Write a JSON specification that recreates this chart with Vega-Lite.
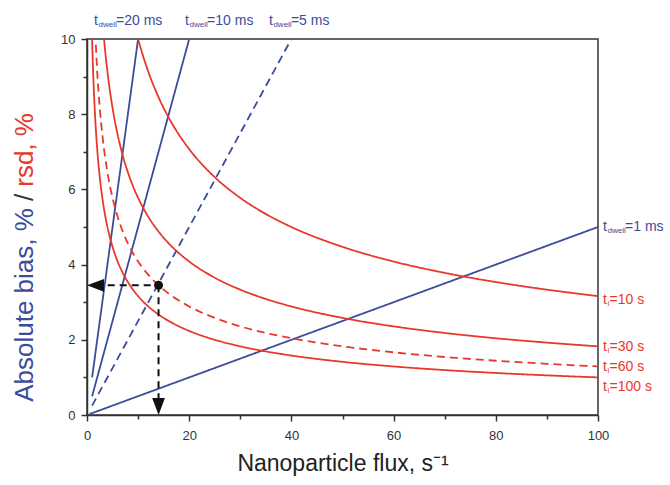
{
  "$schema": "https://vega.github.io/schema/vega-lite/v6.json",
  "width": 511,
  "height": 376,
  "autosize": {"type": "none"},
  "padding": {"left": 87, "top": 39, "right": 72, "bottom": 70},
  "background": "white",
  "config": {
    "font": "Liberation Sans",
    "view": {"stroke": "#333333", "strokeWidth": 1.5}
  },
  "datasets": {
    "curves": [
      {"s": "dwell20", "g": "bias", "d": "solid", "x": 1, "y": 1},
      {"s": "dwell20", "g": "bias", "d": "solid", "x": 10, "y": 10},
      {"s": "dwell10", "g": "bias", "d": "solid", "x": 1, "y": 0.5},
      {"s": "dwell10", "g": "bias", "d": "solid", "x": 20, "y": 10},
      {"s": "dwell5", "g": "bias", "d": "dashed", "x": 1, "y": 0.25},
      {"s": "dwell5", "g": "bias", "d": "dashed", "x": 40, "y": 10},
      {"s": "dwell1", "g": "bias", "d": "solid", "x": 0.5, "y": 0.025},
      {"s": "dwell1", "g": "bias", "d": "solid", "x": 100, "y": 5},

      {"s": "ti10", "g": "rsd", "d": "solid", "x": 8, "y": 11.18},
      {"s": "ti10", "g": "rsd", "d": "solid", "x": 9, "y": 10.54},
      {"s": "ti10", "g": "rsd", "d": "solid", "x": 10, "y": 10},
      {"s": "ti10", "g": "rsd", "d": "solid", "x": 12, "y": 9.129},
      {"s": "ti10", "g": "rsd", "d": "solid", "x": 14, "y": 8.452},
      {"s": "ti10", "g": "rsd", "d": "solid", "x": 16, "y": 7.906},
      {"s": "ti10", "g": "rsd", "d": "solid", "x": 18, "y": 7.454},
      {"s": "ti10", "g": "rsd", "d": "solid", "x": 20, "y": 7.071},
      {"s": "ti10", "g": "rsd", "d": "solid", "x": 25, "y": 6.325},
      {"s": "ti10", "g": "rsd", "d": "solid", "x": 30, "y": 5.774},
      {"s": "ti10", "g": "rsd", "d": "solid", "x": 35, "y": 5.345},
      {"s": "ti10", "g": "rsd", "d": "solid", "x": 40, "y": 5},
      {"s": "ti10", "g": "rsd", "d": "solid", "x": 50, "y": 4.472},
      {"s": "ti10", "g": "rsd", "d": "solid", "x": 60, "y": 4.082},
      {"s": "ti10", "g": "rsd", "d": "solid", "x": 70, "y": 3.78},
      {"s": "ti10", "g": "rsd", "d": "solid", "x": 80, "y": 3.536},
      {"s": "ti10", "g": "rsd", "d": "solid", "x": 90, "y": 3.333},
      {"s": "ti10", "g": "rsd", "d": "solid", "x": 100, "y": 3.162},

      {"s": "ti30", "g": "rsd", "d": "solid", "x": 3, "y": 10.54},
      {"s": "ti30", "g": "rsd", "d": "solid", "x": 3.5, "y": 9.759},
      {"s": "ti30", "g": "rsd", "d": "solid", "x": 4, "y": 9.129},
      {"s": "ti30", "g": "rsd", "d": "solid", "x": 5, "y": 8.165},
      {"s": "ti30", "g": "rsd", "d": "solid", "x": 6, "y": 7.454},
      {"s": "ti30", "g": "rsd", "d": "solid", "x": 7, "y": 6.901},
      {"s": "ti30", "g": "rsd", "d": "solid", "x": 8, "y": 6.455},
      {"s": "ti30", "g": "rsd", "d": "solid", "x": 9, "y": 6.086},
      {"s": "ti30", "g": "rsd", "d": "solid", "x": 10, "y": 5.774},
      {"s": "ti30", "g": "rsd", "d": "solid", "x": 12, "y": 5.27},
      {"s": "ti30", "g": "rsd", "d": "solid", "x": 14, "y": 4.88},
      {"s": "ti30", "g": "rsd", "d": "solid", "x": 16, "y": 4.564},
      {"s": "ti30", "g": "rsd", "d": "solid", "x": 18, "y": 4.303},
      {"s": "ti30", "g": "rsd", "d": "solid", "x": 20, "y": 4.082},
      {"s": "ti30", "g": "rsd", "d": "solid", "x": 25, "y": 3.651},
      {"s": "ti30", "g": "rsd", "d": "solid", "x": 30, "y": 3.333},
      {"s": "ti30", "g": "rsd", "d": "solid", "x": 35, "y": 3.086},
      {"s": "ti30", "g": "rsd", "d": "solid", "x": 40, "y": 2.887},
      {"s": "ti30", "g": "rsd", "d": "solid", "x": 50, "y": 2.582},
      {"s": "ti30", "g": "rsd", "d": "solid", "x": 60, "y": 2.357},
      {"s": "ti30", "g": "rsd", "d": "solid", "x": 70, "y": 2.182},
      {"s": "ti30", "g": "rsd", "d": "solid", "x": 80, "y": 2.041},
      {"s": "ti30", "g": "rsd", "d": "solid", "x": 90, "y": 1.925},
      {"s": "ti30", "g": "rsd", "d": "solid", "x": 100, "y": 1.826},

      {"s": "ti60", "g": "rsd", "d": "dashed", "x": 1.5, "y": 10.54},
      {"s": "ti60", "g": "rsd", "d": "dashed", "x": 2, "y": 9.129},
      {"s": "ti60", "g": "rsd", "d": "dashed", "x": 2.5, "y": 8.165},
      {"s": "ti60", "g": "rsd", "d": "dashed", "x": 3, "y": 7.454},
      {"s": "ti60", "g": "rsd", "d": "dashed", "x": 3.5, "y": 6.901},
      {"s": "ti60", "g": "rsd", "d": "dashed", "x": 4, "y": 6.455},
      {"s": "ti60", "g": "rsd", "d": "dashed", "x": 5, "y": 5.774},
      {"s": "ti60", "g": "rsd", "d": "dashed", "x": 6, "y": 5.27},
      {"s": "ti60", "g": "rsd", "d": "dashed", "x": 7, "y": 4.88},
      {"s": "ti60", "g": "rsd", "d": "dashed", "x": 8, "y": 4.564},
      {"s": "ti60", "g": "rsd", "d": "dashed", "x": 9, "y": 4.303},
      {"s": "ti60", "g": "rsd", "d": "dashed", "x": 10, "y": 4.082},
      {"s": "ti60", "g": "rsd", "d": "dashed", "x": 12, "y": 3.727},
      {"s": "ti60", "g": "rsd", "d": "dashed", "x": 14, "y": 3.45},
      {"s": "ti60", "g": "rsd", "d": "dashed", "x": 16, "y": 3.227},
      {"s": "ti60", "g": "rsd", "d": "dashed", "x": 18, "y": 3.043},
      {"s": "ti60", "g": "rsd", "d": "dashed", "x": 20, "y": 2.887},
      {"s": "ti60", "g": "rsd", "d": "dashed", "x": 25, "y": 2.582},
      {"s": "ti60", "g": "rsd", "d": "dashed", "x": 30, "y": 2.357},
      {"s": "ti60", "g": "rsd", "d": "dashed", "x": 35, "y": 2.182},
      {"s": "ti60", "g": "rsd", "d": "dashed", "x": 40, "y": 2.041},
      {"s": "ti60", "g": "rsd", "d": "dashed", "x": 50, "y": 1.826},
      {"s": "ti60", "g": "rsd", "d": "dashed", "x": 60, "y": 1.667},
      {"s": "ti60", "g": "rsd", "d": "dashed", "x": 70, "y": 1.543},
      {"s": "ti60", "g": "rsd", "d": "dashed", "x": 80, "y": 1.443},
      {"s": "ti60", "g": "rsd", "d": "dashed", "x": 90, "y": 1.361},
      {"s": "ti60", "g": "rsd", "d": "dashed", "x": 100, "y": 1.291},

      {"s": "ti100", "g": "rsd", "d": "solid", "x": 0.9, "y": 10.54},
      {"s": "ti100", "g": "rsd", "d": "solid", "x": 1, "y": 10},
      {"s": "ti100", "g": "rsd", "d": "solid", "x": 1.2, "y": 9.129},
      {"s": "ti100", "g": "rsd", "d": "solid", "x": 1.5, "y": 8.165},
      {"s": "ti100", "g": "rsd", "d": "solid", "x": 2, "y": 7.071},
      {"s": "ti100", "g": "rsd", "d": "solid", "x": 2.5, "y": 6.325},
      {"s": "ti100", "g": "rsd", "d": "solid", "x": 3, "y": 5.774},
      {"s": "ti100", "g": "rsd", "d": "solid", "x": 3.5, "y": 5.345},
      {"s": "ti100", "g": "rsd", "d": "solid", "x": 4, "y": 5},
      {"s": "ti100", "g": "rsd", "d": "solid", "x": 5, "y": 4.472},
      {"s": "ti100", "g": "rsd", "d": "solid", "x": 6, "y": 4.082},
      {"s": "ti100", "g": "rsd", "d": "solid", "x": 7, "y": 3.78},
      {"s": "ti100", "g": "rsd", "d": "solid", "x": 8, "y": 3.536},
      {"s": "ti100", "g": "rsd", "d": "solid", "x": 9, "y": 3.333},
      {"s": "ti100", "g": "rsd", "d": "solid", "x": 10, "y": 3.162},
      {"s": "ti100", "g": "rsd", "d": "solid", "x": 12, "y": 2.887},
      {"s": "ti100", "g": "rsd", "d": "solid", "x": 14, "y": 2.673},
      {"s": "ti100", "g": "rsd", "d": "solid", "x": 16, "y": 2.5},
      {"s": "ti100", "g": "rsd", "d": "solid", "x": 18, "y": 2.357},
      {"s": "ti100", "g": "rsd", "d": "solid", "x": 20, "y": 2.236},
      {"s": "ti100", "g": "rsd", "d": "solid", "x": 25, "y": 2},
      {"s": "ti100", "g": "rsd", "d": "solid", "x": 30, "y": 1.826},
      {"s": "ti100", "g": "rsd", "d": "solid", "x": 35, "y": 1.69},
      {"s": "ti100", "g": "rsd", "d": "solid", "x": 40, "y": 1.581},
      {"s": "ti100", "g": "rsd", "d": "solid", "x": 50, "y": 1.414},
      {"s": "ti100", "g": "rsd", "d": "solid", "x": 60, "y": 1.291},
      {"s": "ti100", "g": "rsd", "d": "solid", "x": 70, "y": 1.195},
      {"s": "ti100", "g": "rsd", "d": "solid", "x": 80, "y": 1.118},
      {"s": "ti100", "g": "rsd", "d": "solid", "x": 90, "y": 1.054},
      {"s": "ti100", "g": "rsd", "d": "solid", "x": 100, "y": 1}
    ],
    "guide": [
      {"seg": "h", "x": 1.7, "y": 3.45},
      {"seg": "h", "x": 14, "y": 3.45},
      {"seg": "v", "x": 14, "y": 3.45},
      {"seg": "v", "x": 14, "y": 0.25}
    ],
    "heads": [
      {"dir": "left", "x": 1.66, "y": 3.45},
      {"dir": "down", "x": 14, "y": 0.226}
    ],
    "dot": [
      {"x": 14, "y": 3.45}
    ],
    "tags": [
      {"g": "bias", "sub": "dwell", "rest": "=20 ms", "x": 1.37, "y": 10.47},
      {"g": "bias", "sub": "dwell", "rest": "=10 ms", "x": 19.2, "y": 10.47},
      {"g": "bias", "sub": "dwell", "rest": "=5 ms", "x": 35.6, "y": 10.47},
      {"g": "bias", "sub": "dwell", "rest": "=1 ms", "x": 101, "y": 5.01},
      {"g": "rsd", "sub": "i", "rest": "=10 s", "x": 101, "y": 3.06},
      {"g": "rsd", "sub": "i", "rest": "=30 s", "x": 101, "y": 1.82},
      {"g": "rsd", "sub": "i", "rest": "=60 s", "x": 101, "y": 1.28},
      {"g": "rsd", "sub": "i", "rest": "=100 s", "x": 101, "y": 0.74}
    ],
    "ytitle": [
      {"g": "bias", "label": "Absolute bias, %", "x": -12.1, "y": 0.35},
      {"g": "ink", "label": "/", "x": -12.1, "y": 5.69},
      {"g": "rsd", "label": "rsd, %", "x": -12.1, "y": 6.07}
    ]
  },
  "encoding": {
    "x": {
      "field": "x",
      "type": "quantitative",
      "scale": {"domain": [0, 100], "nice": false, "zero": false},
      "axis": {
        "values": [0, 10, 20, 30, 40, 50, 60, 70, 80, 90, 100],
        "labelExpr": "datum.value % 20 === 0 ? datum.label : ''",
        "tickSize": {"condition": {"test": "datum.value % 20 === 0", "value": 6}, "value": 4},
        "grid": false,
        "labelFlush": false,
        "labelFontSize": 13,
        "labelColor": "#333333",
        "labelPadding": 8,
        "domainColor": "#333333",
        "domainWidth": 1.5,
        "tickColor": "#333333",
        "tickWidth": 1.5,
        "title": "Nanoparticle flux, s⁻¹",
        "titleFontSize": 23,
        "titleFontWeight": "normal",
        "titleColor": "#222222",
        "titlePadding": 10
      }
    },
    "y": {
      "field": "y",
      "type": "quantitative",
      "scale": {"domain": [0, 10], "nice": false, "zero": false},
      "axis": {
        "values": [0, 1, 2, 3, 4, 5, 6, 7, 8, 9, 10],
        "labelExpr": "datum.value % 2 === 0 ? datum.label : ''",
        "tickSize": {"condition": {"test": "datum.value % 2 === 0", "value": 6}, "value": 4},
        "grid": false,
        "labelFlush": false,
        "labelFontSize": 13,
        "labelColor": "#333333",
        "labelPadding": 6,
        "domainColor": "#333333",
        "domainWidth": 1.5,
        "tickColor": "#333333",
        "tickWidth": 1.5,
        "title": null
      }
    }
  },
  "layer": [
    {
      "data": {"name": "curves"},
      "mark": {"type": "line", "clip": true, "strokeWidth": 1.8, "interpolate": "monotone"},
      "encoding": {
        "detail": {"field": "s"},
        "color": {
          "field": "g",
          "type": "nominal",
          "scale": {"domain": ["bias", "rsd", "ink"], "range": ["#3b4c9b", "#e8382b", "#333333"]},
          "legend": null
        },
        "strokeDash": {
          "field": "d",
          "type": "nominal",
          "scale": {"domain": ["solid", "dashed"], "range": [[1, 0], [8, 5]]},
          "legend": null
        }
      }
    },
    {
      "data": {"name": "guide"},
      "mark": {"type": "line", "color": "#111111", "strokeWidth": 2, "strokeDash": [7, 5]},
      "encoding": {"detail": {"field": "seg"}}
    },
    {
      "data": {"name": "dot"},
      "mark": {"type": "point", "shape": "circle", "filled": true, "color": "#111111", "size": 80, "opacity": 1}
    },
    {
      "data": {"name": "heads"},
      "mark": {"type": "point", "filled": true, "color": "#111111", "size": 289, "opacity": 1},
      "encoding": {
        "shape": {
          "field": "dir",
          "type": "nominal",
          "scale": {"domain": ["left", "down"], "range": ["M1,-0.75L1,0.75L-1,0Z", "M-0.75,-1L0.75,-1L0,1Z"]},
          "legend": null
        }
      }
    },
    {
      "data": {"name": "tags"},
      "mark": {"type": "text", "align": "left", "baseline": "middle", "fontSize": 14},
      "encoding": {
        "text": {"value": "t"},
        "color": {"field": "g", "type": "nominal", "legend": null}
      }
    },
    {
      "data": {"name": "tags"},
      "mark": {"type": "text", "align": "left", "baseline": "middle", "fontSize": 8, "dx": 4.5, "dy": 4},
      "encoding": {
        "text": {"field": "sub"},
        "color": {"field": "g", "type": "nominal", "legend": null}
      }
    },
    {
      "data": {"name": "tags"},
      "transform": [{"filter": "datum.sub === 'dwell'"}],
      "mark": {"type": "text", "align": "left", "baseline": "middle", "fontSize": 14, "dx": 22},
      "encoding": {
        "text": {"field": "rest"},
        "color": {"field": "g", "type": "nominal", "legend": null}
      }
    },
    {
      "data": {"name": "tags"},
      "transform": [{"filter": "datum.sub === 'i'"}],
      "mark": {"type": "text", "align": "left", "baseline": "middle", "fontSize": 14, "dx": 6.5},
      "encoding": {
        "text": {"field": "rest"},
        "color": {"field": "g", "type": "nominal", "legend": null}
      }
    },
    {
      "data": {"name": "ytitle"},
      "mark": {"type": "text", "align": "left", "baseline": "middle", "angle": 270, "fontSize": 26},
      "encoding": {
        "text": {"field": "label"},
        "color": {"field": "g", "type": "nominal", "legend": null}
      }
    }
  ]
}
